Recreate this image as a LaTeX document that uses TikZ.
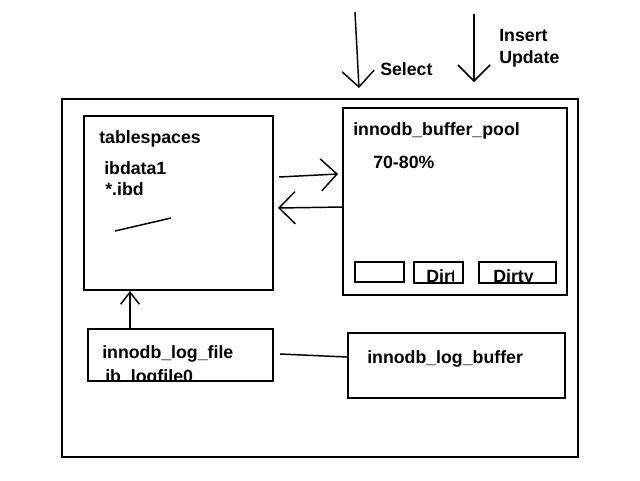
\documentclass[tikz,border=0pt]{standalone}
\usepackage{fontspec}
\setmainfont{Liberation Sans}
\usetikzlibrary{arrows.meta,fit}

\tikzset{
  box/.style={draw, line width=1.5pt, inner sep=0pt},
  lbl/.style={anchor=base west, inner sep=0pt, font=\bfseries\fontsize{13.3}{15}\selectfont},
  arr/.style={line width=1.1pt, -{Straight Barb[length=12pt,width=24pt]}},
  sarr/.style={line width=1.1pt, -{Straight Barb[length=9pt,width=14pt]}},
}

\begin{document}
\begin{tikzpicture}[x=0.75pt,y=-0.75pt]
    \useasboundingbox (0,0) rectangle (640,480);

    % the boxes
    \node[box, fit={(62,99) (578,457)}] (mysqld) {};
    \node[box, fit={(84,116) (273,290)}] (ts) {};
    \node[box, fit={(343,108) (567,295)}] (bp) {};
    \node[box, fit={(88,329) (273,381)}] (lf) {};
    \node[box, fit={(348,333) (565,398)}] (lb) {};
    \node[box, fit={(355,262) (404,282)}] (pg1) {};
    \node[box, fit={(414,262) (463,283)}] (pg2) {};
    \node[box, fit={(479,262) (556,283)}] (pg3) {};

    % texts
    \node[lbl] (tsname) at (99,143) {tablespaces};
    \node[lbl] (ibdata) at (104,174) {ibdata1};
    \node[lbl] (ibd) at (105,195) {*.ibd};
    \node[lbl] (bpname) at (353,135) {innodb\_buffer\_pool};
    \node[lbl] (pct) at (373,168) {70-80\%};
    \node[lbl] (lfname) at (102,358) {innodb\_log\_file};
    \node[lbl] (lbname) at (367,363) {innodb\_log\_buffer};
    \node[lbl] (sel) at (380,75) {Select};
    \node[lbl] (ins) at (499,41) {Insert};
    \node[lbl] (upd) at (499,63) {Update};

    % texts cut by their boxes
    \begin{scope}
        \clip (415,263) rectangle (453,282);
        \node[lbl] (dirty1) at (426,282) {Dirty};
    \end{scope}
    \begin{scope}
        \clip (480,263) rectangle (555,282);
        \node[lbl] (dirty2) at (493,282) {Dirty};
    \end{scope}
    \begin{scope}
        \clip (89,360) rectangle (272,380);
        \node[lbl] (logfile) at (105,382) {ib\_logfile0};
    \end{scope}

    % free ends
    \coordinate (seltop) at (355,12);
    \coordinate (selend) at (359,88);
    \coordinate (instop) at (474,14);
    \coordinate (insend) at (474,82);
    \coordinate (toin) at (279,177);
    \coordinate (toinend) at (338,174);
    \coordinate (toout) at (343,207);
    \coordinate (tooutend) at (278,208);
    \coordinate (logend) at (347,357);

    % connectors
    \draw[arr] (seltop) -- (selend);
    \draw[arr] (instop) -- (insend);
    \draw[arr] (toin) -- (toinend);
    \draw[arr] (toout) -- (tooutend);
    \draw[sarr] (lf.north -| 130,0) -- (ts.south -| 130,0);
    \draw[line width=1.1pt] (lf.east |- 0,354) ++(6,0) -- (logend);
    \draw[line width=1.1pt] (115,231) -- (171,218);
\end{tikzpicture}
\end{document}
